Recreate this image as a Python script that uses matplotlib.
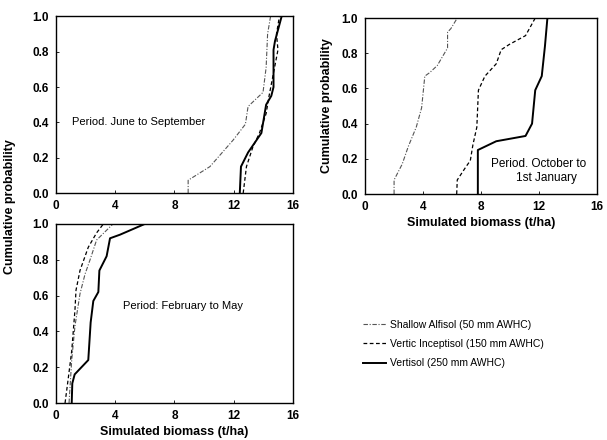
import matplotlib
matplotlib.use("Agg")
import matplotlib.pyplot as plt

plt.rcParams['font.family'] = ['Liberation Sans', 'DejaVu Sans']

series_labels = ["Shallow Alfisol (50 mm AWHC)", "Vertic Inceptisol (150 mm AWHC)", "Vertisol (250 mm AWHC)"]

# Panel 1: June to September
jun_alf_x = [8.93, 8.93, 10.4, 11.97, 12.8, 12.98, 13.99, 14.2, 14.3, 14.5]
jun_alf_y = [0.0, 0.073, 0.15, 0.30, 0.39, 0.49, 0.57, 0.71, 0.90, 1.0]
jun_inc_x = [12.65, 12.87, 13.3, 13.75, 14.2, 14.4, 15.0, 14.9, 15.1]
jun_inc_y = [0.0, 0.15, 0.26, 0.34, 0.45, 0.55, 0.81, 0.90, 1.0]
jun_ver_x = [12.42, 12.5, 12.98, 13.88, 14.1, 14.2, 14.55, 14.7, 14.7, 14.8, 15.25]
jun_ver_y = [0.0, 0.15, 0.23, 0.34, 0.45, 0.50, 0.55, 0.60, 0.81, 0.86, 1.0]

# Panel 2: October to 1st January
oct_alf_x = [2.02, 2.02, 2.58, 3.0, 3.55, 3.92, 4.14, 4.48, 5.0, 5.71, 5.71, 5.94, 6.38]
oct_alf_y = [0.0, 0.08, 0.17, 0.27, 0.38, 0.49, 0.67, 0.69, 0.73, 0.83, 0.92, 0.94, 1.0]
oct_inc_x = [6.34, 6.38, 6.94, 7.28, 7.46, 7.73, 7.84, 8.29, 9.07, 9.41, 9.97, 11.09, 11.76]
oct_inc_y = [0.0, 0.08, 0.15, 0.19, 0.28, 0.38, 0.59, 0.67, 0.74, 0.82, 0.85, 0.90, 1.0]
oct_ver_x = [7.8, 7.8, 9.07, 11.09, 11.54, 11.76, 12.21, 12.43, 12.6]
oct_ver_y = [0.0, 0.25, 0.30, 0.33, 0.40, 0.59, 0.67, 0.84, 1.0]

# Panel 3: February to May
feb_alf_x = [0.88, 1.06, 1.28, 1.62, 1.96, 2.3, 2.74, 3.85]
feb_alf_y = [0.0, 0.24, 0.43, 0.61, 0.72, 0.80, 0.91, 1.0]
feb_inc_x = [0.61, 0.83, 1.06, 1.28, 1.35, 1.62, 2.18, 2.74, 3.2]
feb_inc_y = [0.0, 0.14, 0.29, 0.52, 0.63, 0.74, 0.87, 0.95, 1.0]
feb_ver_x = [1.06, 1.1, 1.26, 2.18, 2.34, 2.52, 2.86, 2.93, 3.42, 3.65, 4.32, 6.0]
feb_ver_y = [0.0, 0.11, 0.16, 0.24, 0.45, 0.57, 0.62, 0.74, 0.82, 0.92, 0.94, 1.0]

x_ticks = [0, 4, 8, 12, 16]
y_ticks = [0.0, 0.2, 0.4, 0.6, 0.8, 1.0]
y_ticklabels = ["0.0", "0.2", "0.4", "0.6", "0.8", "1.0"]

styles = [dict(color="#555555", linestyle=(0, (4, 1.5, 1, 1.5)), linewidth=0.8),
          dict(color="black", linestyle=(0, (3, 2)), linewidth=0.9),
          dict(color="black", linestyle="-", linewidth=1.4)]

fig = plt.figure(figsize=(6.07, 4.40), dpi=100)
ax1 = fig.add_axes([0.0923, 0.561, 0.390, 0.402])
ax2 = fig.add_axes([0.601, 0.559, 0.382, 0.400])
ax3 = fig.add_axes([0.0923, 0.084, 0.390, 0.407])

panels = [
    (ax1, [(jun_alf_x, jun_alf_y), (jun_inc_x, jun_inc_y), (jun_ver_x, jun_ver_y)]),
    (ax2, [(oct_alf_x, oct_alf_y), (oct_inc_x, oct_inc_y), (oct_ver_x, oct_ver_y)]),
    (ax3, [(feb_alf_x, feb_alf_y), (feb_inc_x, feb_inc_y), (feb_ver_x, feb_ver_y)]),
]

handles = []
for ax, data in panels:
    for (xs, ys), st, lab in zip(data, styles, series_labels):
        ln, = ax.plot(xs, ys, label=lab, **st)
        if ax is ax1:
            handles.append(ln)
    ax.set_xlim(0, 16)
    ax.set_ylim(0, 1)
    ax.set_xticks(x_ticks)
    ax.set_xticklabels([str(t) for t in x_ticks], fontweight="bold", fontsize=8.5)
    ax.set_yticks(y_ticks)
    ax.set_yticklabels(y_ticklabels, fontweight="bold", fontsize=8.5)
    ax.tick_params(direction="in", length=2, width=0.6, pad=5)
    for sp in ax.spines.values():
        sp.set_linewidth(1.0)

ax1.text(1.1, 0.40, "Period. June to September", fontsize=8, va="center")
ax2.text(8.7, 0.17, "Period. October to", fontsize=8.5, va="center")
ax2.text(10.4, 0.09, "1st January", fontsize=8.5, va="center")
ax3.text(4.5, 0.54, "Period: February to May", fontsize=8, va="center")

ax2.set_ylabel("Cumulative probability", fontweight="bold", fontsize=9, labelpad=6)
ax2.set_xlabel("Simulated biomass (t/ha)", fontweight="bold", fontsize=9, labelpad=3)
ax3.set_xlabel("Simulated biomass (t/ha)", fontweight="bold", fontsize=9, labelpad=3)
fig.text(0.016, 0.53, "Cumulative probability", rotation=90, fontweight="bold",
         fontsize=9, ha="center", va="center")

fig.legend(handles=handles, loc="upper left", bbox_to_anchor=(0.582, 0.295),
           frameon=False, fontsize=7.5, handlelength=2.2, handletextpad=0.4,
           labelspacing=0.9)

fig.savefig("out.png", dpi=100)
